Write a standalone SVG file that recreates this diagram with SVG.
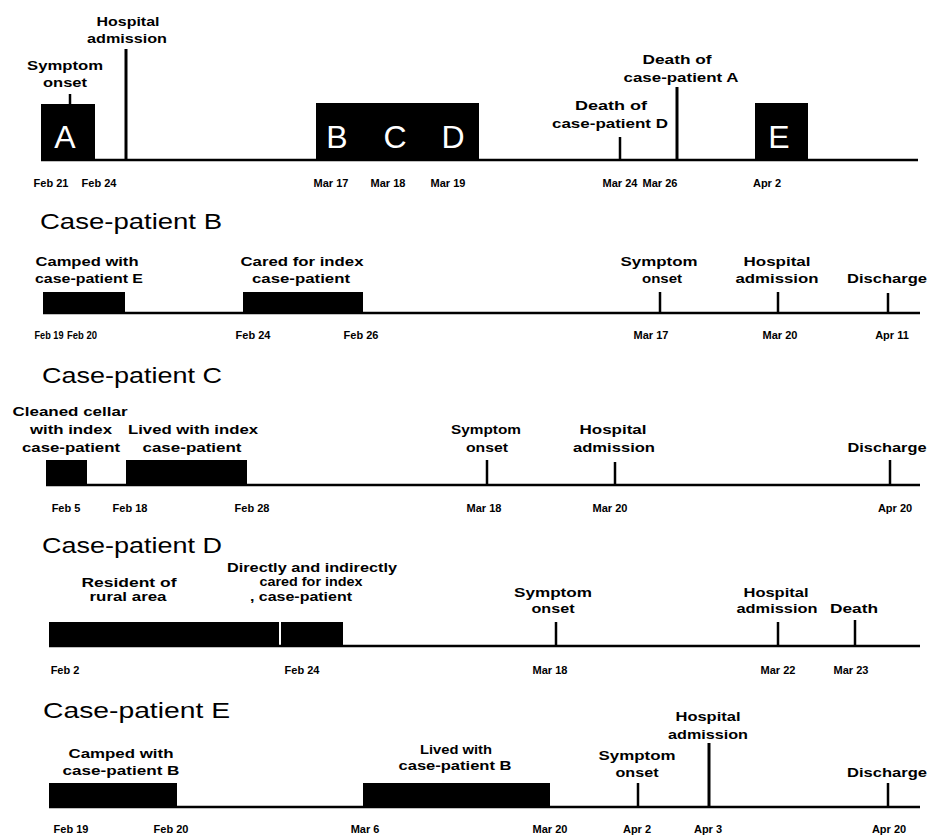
<svg xmlns="http://www.w3.org/2000/svg" width="928" height="838" viewBox="0 0 928 838">
<style>
.lb{font-family:"Liberation Sans",Arial,sans-serif;font-weight:bold;font-size:13px;fill:#000;text-anchor:middle}
.dt{font-family:"Liberation Sans",Arial,sans-serif;font-weight:bold;font-size:11px;fill:#000;text-anchor:middle}
.tt{font-family:"Liberation Sans",Arial,sans-serif;font-size:22px;fill:#000}
.bx{font-family:"Liberation Sans",Arial,sans-serif;font-size:32px;fill:#fff;text-anchor:middle}
.bar{fill:#000}
.ax{stroke:#000;stroke-width:2.5;fill:none}
.tk{stroke:#000;stroke-width:2.5;fill:none}
</style>
<rect width="928" height="838" fill="#fff"/>

<!-- axes -->
<g id="axes">
<line class="ax" x1="41" y1="160" x2="918" y2="160"/>
<line class="ax" x1="43" y1="313" x2="920" y2="313"/>
<line class="ax" x1="46" y1="485" x2="920" y2="485"/>
<line class="ax" x1="49" y1="646" x2="920" y2="646"/>
<line class="ax" x1="49" y1="807" x2="920" y2="807"/>
</g>

<!-- Index timeline -->
<g id="index-A">
<rect class="bar" x="41" y="104" width="54" height="56"/>
<text class="bx" x="65" y="148">A</text>
</g>
<g id="index-symptom-onset">
<line class="tk" x1="70" y1="94" x2="70" y2="105"/>
<text class="lb" x="65" y="70" textLength="76" lengthAdjust="spacingAndGlyphs">Symptom</text>
<text class="lb" x="65" y="87" textLength="44" lengthAdjust="spacingAndGlyphs">onset</text>
</g>
<g id="index-hospital-admission">
<line class="tk" x1="126" y1="49" x2="126" y2="159" style="stroke-width:3"/>
<text class="lb" x="128" y="26" textLength="63" lengthAdjust="spacingAndGlyphs">Hospital</text>
<text class="lb" x="127" y="43" textLength="80" lengthAdjust="spacingAndGlyphs">admission</text>
</g>
<g id="index-BCD">
<rect class="bar" x="316" y="103" width="163" height="57"/>
<text class="bx" x="337" y="148">B</text>
<text class="bx" x="395" y="148">C</text>
<text class="bx" x="453" y="148">D</text>
</g>
<g id="index-death-D">
<line class="tk" x1="620" y1="137" x2="620" y2="160"/>
<text class="lb" x="611" y="110" textLength="72" lengthAdjust="spacingAndGlyphs">Death of</text>
<text class="lb" x="610" y="128" textLength="116" lengthAdjust="spacingAndGlyphs">case-patient D</text>
</g>
<g id="index-death-A">
<line class="tk" x1="677" y1="87" x2="677" y2="160" style="stroke-width:3"/>
<text class="lb" x="677" y="64" textLength="69" lengthAdjust="spacingAndGlyphs">Death of</text>
<text class="lb" x="681" y="82" textLength="115" lengthAdjust="spacingAndGlyphs">case-patient A</text>
</g>
<g id="index-E">
<rect class="bar" x="755" y="103" width="53" height="56"/>
<text class="bx" x="779" y="148">E</text>
</g>
<g id="index-dates">
<text class="dt" x="51" y="187">Feb 21</text>
<text class="dt" x="99" y="187">Feb 24</text>
<text class="dt" x="331" y="187">Mar 17</text>
<text class="dt" x="388" y="187">Mar 18</text>
<text class="dt" x="448" y="187">Mar 19</text>
<text class="dt" x="620" y="187">Mar 24</text>
<text class="dt" x="660" y="187">Mar 26</text>
<text class="dt" x="767" y="187">Apr 2</text>
</g>

<!-- Case-patient B -->
<g id="title-B"><text class="tt" x="40" y="229" textLength="182" lengthAdjust="spacingAndGlyphs">Case-patient B</text></g>
<g id="B-camped">
<rect class="bar" x="43" y="292" width="82" height="21"/>
<text class="lb" x="87" y="266" textLength="103" lengthAdjust="spacingAndGlyphs">Camped with</text>
<text class="lb" x="89" y="283" textLength="108" lengthAdjust="spacingAndGlyphs">case-patient E</text>
</g>
<g id="B-cared">
<rect class="bar" x="243" y="292" width="120" height="21"/>
<text class="lb" x="302" y="266" textLength="123" lengthAdjust="spacingAndGlyphs">Cared for index</text>
<text class="lb" x="301" y="283" textLength="98" lengthAdjust="spacingAndGlyphs">case-patient</text>
</g>
<g id="B-symptom-onset">
<line class="tk" x1="660" y1="292" x2="660" y2="313"/>
<text class="lb" x="659" y="266" textLength="77" lengthAdjust="spacingAndGlyphs">Symptom</text>
<text class="lb" x="662" y="283" textLength="40" lengthAdjust="spacingAndGlyphs">onset</text>
</g>
<g id="B-hospital-admission">
<line class="tk" x1="778" y1="292" x2="778" y2="313"/>
<text class="lb" x="777" y="266" textLength="67" lengthAdjust="spacingAndGlyphs">Hospital</text>
<text class="lb" x="777" y="283" textLength="83" lengthAdjust="spacingAndGlyphs">admission</text>
</g>
<g id="B-discharge">
<line class="tk" x1="888" y1="293" x2="888" y2="313"/>
<text class="lb" x="887" y="283" textLength="80" lengthAdjust="spacingAndGlyphs">Discharge</text>
</g>
<g id="B-dates">
<text class="dt" x="49" y="339" textLength="29" lengthAdjust="spacingAndGlyphs">Feb 19</text>
<text class="dt" x="82" y="339" textLength="30" lengthAdjust="spacingAndGlyphs">Feb 20</text>
<text class="dt" x="253" y="339">Feb 24</text>
<text class="dt" x="361" y="339">Feb 26</text>
<text class="dt" x="651" y="339">Mar 17</text>
<text class="dt" x="780" y="339">Mar 20</text>
<text class="dt" x="892" y="339">Apr 11</text>
</g>

<!-- Case-patient C -->
<g id="title-C"><text class="tt" x="42" y="383" textLength="180" lengthAdjust="spacingAndGlyphs">Case-patient C</text></g>
<g id="C-cleaned">
<rect class="bar" x="46" y="460" width="41" height="25"/>
<text class="lb" x="70" y="416" textLength="115" lengthAdjust="spacingAndGlyphs">Cleaned cellar</text>
<text class="lb" x="71" y="434" textLength="82" lengthAdjust="spacingAndGlyphs">with index</text>
<text class="lb" x="71" y="452" textLength="98" lengthAdjust="spacingAndGlyphs">case-patient</text>
</g>
<g id="C-lived">
<rect class="bar" x="126" y="460" width="121" height="25"/>
<text class="lb" x="193" y="434" textLength="130" lengthAdjust="spacingAndGlyphs">Lived with index</text>
<text class="lb" x="192" y="452" textLength="99" lengthAdjust="spacingAndGlyphs">case-patient</text>
</g>
<g id="C-symptom-onset">
<line class="tk" x1="487" y1="460" x2="487" y2="485"/>
<text class="lb" x="486" y="434" textLength="70" lengthAdjust="spacingAndGlyphs">Symptom</text>
<text class="lb" x="487" y="452" textLength="42" lengthAdjust="spacingAndGlyphs">onset</text>
</g>
<g id="C-hospital-admission">
<line class="tk" x1="615" y1="462" x2="615" y2="485"/>
<text class="lb" x="613" y="434" textLength="67" lengthAdjust="spacingAndGlyphs">Hospital</text>
<text class="lb" x="614" y="452" textLength="82" lengthAdjust="spacingAndGlyphs">admission</text>
</g>
<g id="C-discharge">
<line class="tk" x1="890" y1="460" x2="890" y2="485"/>
<text class="lb" x="887" y="452" textLength="79" lengthAdjust="spacingAndGlyphs">Discharge</text>
</g>
<g id="C-dates">
<text class="dt" x="66" y="512">Feb 5</text>
<text class="dt" x="130" y="512">Feb 18</text>
<text class="dt" x="252" y="512">Feb 28</text>
<text class="dt" x="484" y="512">Mar 18</text>
<text class="dt" x="610" y="512">Mar 20</text>
<text class="dt" x="895" y="512">Apr 20</text>
</g>

<!-- Case-patient D -->
<g id="title-D"><text class="tt" x="42" y="553" textLength="180" lengthAdjust="spacingAndGlyphs">Case-patient D</text></g>
<g id="D-resident">
<rect class="bar" x="49" y="622" width="230" height="24"/>
<text class="lb" x="129" y="587" textLength="95" lengthAdjust="spacingAndGlyphs">Resident of</text>
<text class="lb" x="128" y="601" textLength="77" lengthAdjust="spacingAndGlyphs">rural area</text>
</g>
<g id="D-cared">
<rect class="bar" x="281" y="622" width="62" height="24"/>
<text class="lb" x="312" y="572" textLength="170" lengthAdjust="spacingAndGlyphs">Directly and indirectly</text>
<text class="lb" x="311" y="586" textLength="103" lengthAdjust="spacingAndGlyphs">cared for index</text>
<text class="lb" x="301" y="601" textLength="102" lengthAdjust="spacingAndGlyphs">, case-patient</text>
</g>
<g id="D-symptom-onset">
<line class="tk" x1="556" y1="622" x2="556" y2="646"/>
<text class="lb" x="553" y="597" textLength="78" lengthAdjust="spacingAndGlyphs">Symptom</text>
<text class="lb" x="553" y="613" textLength="43" lengthAdjust="spacingAndGlyphs">onset</text>
</g>
<g id="D-hospital-admission">
<line class="tk" x1="778" y1="622" x2="778" y2="646"/>
<text class="lb" x="776" y="597" textLength="65" lengthAdjust="spacingAndGlyphs">Hospital</text>
<text class="lb" x="777" y="613" textLength="81" lengthAdjust="spacingAndGlyphs">admission</text>
</g>
<g id="D-death">
<line class="tk" x1="855" y1="620" x2="855" y2="646"/>
<text class="lb" x="854" y="613" textLength="48" lengthAdjust="spacingAndGlyphs">Death</text>
</g>
<g id="D-dates">
<text class="dt" x="65" y="674">Feb 2</text>
<text class="dt" x="302" y="674">Feb 24</text>
<text class="dt" x="550" y="674">Mar 18</text>
<text class="dt" x="778" y="674">Mar 22</text>
<text class="dt" x="851" y="674">Mar 23</text>
</g>

<!-- Case-patient E -->
<g id="title-E"><text class="tt" x="43" y="718" textLength="187" lengthAdjust="spacingAndGlyphs">Case-patient E</text></g>
<g id="E-camped">
<rect class="bar" x="49" y="783" width="128" height="24"/>
<text class="lb" x="121" y="758" textLength="105" lengthAdjust="spacingAndGlyphs">Camped with</text>
<text class="lb" x="121" y="775" textLength="117" lengthAdjust="spacingAndGlyphs">case-patient B</text>
</g>
<g id="E-lived">
<rect class="bar" x="363" y="783" width="187" height="24"/>
<text class="lb" x="456" y="754" textLength="72" lengthAdjust="spacingAndGlyphs">Lived with</text>
<text class="lb" x="455" y="770" textLength="113" lengthAdjust="spacingAndGlyphs">case-patient B</text>
</g>
<g id="E-symptom-onset">
<line class="tk" x1="638" y1="783" x2="638" y2="807"/>
<text class="lb" x="637" y="760" textLength="77" lengthAdjust="spacingAndGlyphs">Symptom</text>
<text class="lb" x="637" y="777" textLength="43" lengthAdjust="spacingAndGlyphs">onset</text>
</g>
<g id="E-hospital-admission">
<line class="tk" x1="709" y1="743" x2="709" y2="807" style="stroke-width:3"/>
<text class="lb" x="708" y="721" textLength="65" lengthAdjust="spacingAndGlyphs">Hospital</text>
<text class="lb" x="708" y="739" textLength="80" lengthAdjust="spacingAndGlyphs">admission</text>
</g>
<g id="E-discharge">
<line class="tk" x1="888" y1="783" x2="888" y2="807"/>
<text class="lb" x="887" y="777" textLength="80" lengthAdjust="spacingAndGlyphs">Discharge</text>
</g>
<g id="E-dates">
<text class="dt" x="71" y="833">Feb 19</text>
<text class="dt" x="171" y="833">Feb 20</text>
<text class="dt" x="365" y="833">Mar 6</text>
<text class="dt" x="550" y="833">Mar 20</text>
<text class="dt" x="637" y="833">Apr 2</text>
<text class="dt" x="708" y="833">Apr 3</text>
<text class="dt" x="889" y="833">Apr 20</text>
</g>
</svg>
